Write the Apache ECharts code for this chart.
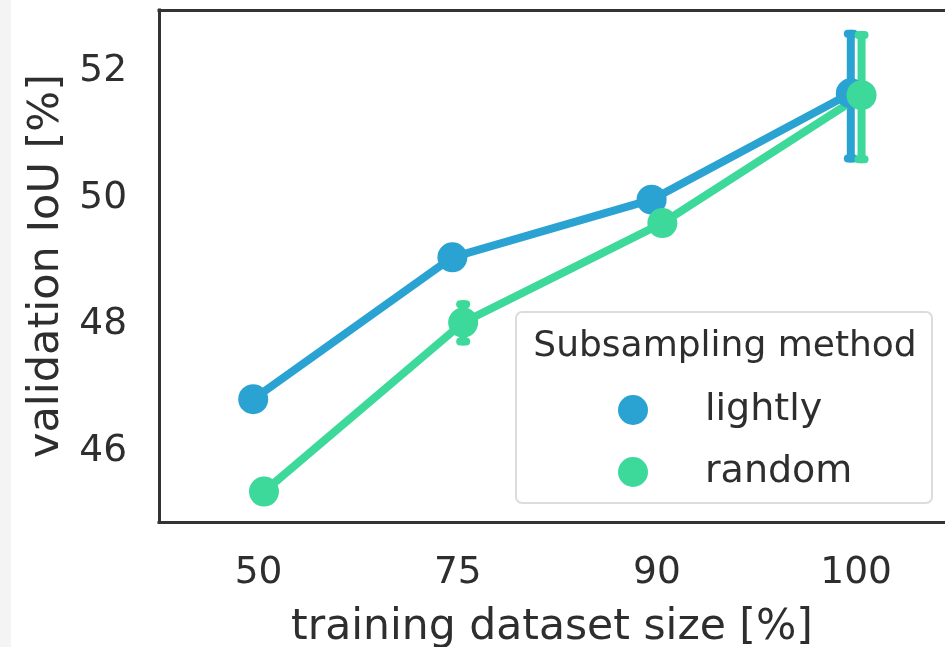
<!DOCTYPE html>
<html>
<head>
<meta charset="utf-8">
<script src="https://cdn.jsdelivr.net/npm/echarts@6/dist/echarts.min.js"></script>
<style>html,body{margin:0;padding:0;background:#fff}#c{width:945px;height:647px}</style>
</head>
<body>
<div id="c"></div>
<script>
// ---- data ----
var categories = ['50', '75', '90', '100'];
var seriesNames = ['lightly', 'random'];
var lightlyMean = [46.75, 48.99, 49.90, 51.58];
var lightlyLow  = [null, null, null, 50.55];
var lightlyHigh = [null, null, null, 52.52];
var randomMean  = [45.29, 47.96, 49.53, 51.55];
var randomLow   = [null, 47.66, null, 50.54];
var randomHigh  = [null, 48.25, null, 52.50];
var yTicks = [46, 48, 50, 52];
var colors = ['#2aa3d3', '#3dd99b'];
var dodge = [-0.027, 0.027];

var FONT = 'DejaVu Sans';
var TXT = '#2e2e2e';
var FRAME = { show: true, onZero: false, lineStyle: { color: '#333333', width: 3, cap: 'square' } };

function pts(mean, k) {
  return mean.map(function (v, i) { return [i + dodge[k], v]; });
}
function bars(lo, hi, k) {
  var out = [];
  lo.forEach(function (l, i) { if (l != null) out.push([i + dodge[k], l, hi[i]]); });
  return out;
}
function errRender(color) {
  return function (params, api) {
    var x = api.value(0);
    var a = api.coord([x, api.value(2)]);
    var b = api.coord([x, api.value(1)]);
    var cw = 3;
    var st = { stroke: color, lineWidth: 8, lineCap: 'round' };
    return {
      type: 'group',
      children: [
        { type: 'line', shape: { x1: a[0], y1: a[1], x2: b[0], y2: b[1] }, style: st },
        { type: 'line', shape: { x1: a[0] - cw, y1: a[1], x2: a[0] + cw, y2: a[1] }, style: st },
        { type: 'line', shape: { x1: b[0] - cw, y1: b[1], x2: b[0] + cw, y2: b[1] }, style: st }
      ]
    };
  };
}

var means = [lightlyMean, randomMean];
var lows = [lightlyLow, randomLow];
var highs = [lightlyHigh, randomHigh];
var series = [];
[0, 1].forEach(function (k) {
  series.push({
    name: seriesNames[k], type: 'line', data: pts(means[k], k),
    symbol: 'none', lineStyle: { color: colors[k], width: 8 },
    itemStyle: { color: colors[k] }, z: 2 + k * 3, silent: true, animation: false
  });
  series.push({
    name: seriesNames[k], type: 'custom', data: bars(lows[k], highs[k], k),
    renderItem: errRender(colors[k]), itemStyle: { color: colors[k] },
    z: 3 + k * 3, silent: true, animation: false
  });
  series.push({
    name: seriesNames[k], type: 'scatter', data: pts(means[k], k),
    symbol: 'circle', symbolSize: 30, itemStyle: { color: colors[k], opacity: 1 },
    z: 20 + k, silent: true, animation: false
  });
});

// x range: the category band continues past the right edge of the picture
var xMin = -0.5, xMax = 3.446;

var chart = echarts.init(document.getElementById('c'), null, { renderer: 'canvas' });
chart.setOption({
  backgroundColor: '#ffffff',
  animation: false,
  color: colors,
  grid: { left: 159, top: 10, right: 0, bottom: 125, show: false, outerBoundsMode: 'none' },
  xAxis: [{
    type: 'value', min: xMin, max: xMax, position: 'bottom',
    name: 'training dataset size [%]', nameLocation: 'middle', nameGap: 84,
    nameTextStyle: { fontFamily: FONT, fontSize: 42.5, color: TXT },
    axisLine: FRAME, axisTick: { show: false }, splitLine: { show: false },
    axisLabel: {
      customValues: [0, 1, 2, 3],
      formatter: function (v) { return categories[Math.round(v)]; },
      fontFamily: FONT, fontSize: 37.5, color: TXT, margin: 32
    }
  }, {
    type: 'value', min: xMin, max: xMax, position: 'top',
    axisLine: FRAME, axisTick: { show: false }, splitLine: { show: false },
    axisLabel: { show: false }
  }],
  yAxis: {
    type: 'value', min: 44.81, max: 52.895,
    name: 'validation IoU [%]', nameLocation: 'middle', nameGap: 70,
    nameTextStyle: { fontFamily: FONT, fontSize: 43, color: TXT },
    axisLine: FRAME, axisTick: { show: false }, splitLine: { show: false },
    axisLabel: {
      customValues: yTicks,
      fontFamily: FONT, fontSize: 37.5, color: TXT, margin: 32,
      verticalAlign: 'top', lineHeight: 9
    }
  },
  legend: {
    data: seriesNames, orient: 'vertical', left: 618, top: 391, padding: 0,
    icon: 'circle', itemWidth: 30, itemHeight: 30, itemGap: 24,
    textStyle: { fontFamily: FONT, fontSize: 38, color: TXT, padding: [0, 0, 0, 52] },
    selectedMode: false, z: 30
  },
  graphic: [
    { type: 'rect', left: 0, top: 0, shape: { width: 11, height: 647 }, style: { fill: '#f4f4f4' }, z: 0 },
    { type: 'rect', shape: { x: 516, y: 312, width: 416, height: 191, r: 6 },
      style: { fill: 'rgba(255,255,255,0.85)', stroke: '#dcdcdc', lineWidth: 2 }, z: 25 },
    { type: 'text', x: 725, y: 347, style: { text: 'Subsampling method', font: '36px "DejaVu Sans"',
      fill: TXT, textAlign: 'center', textVerticalAlign: 'middle' }, z: 26 }
  ],
  series: series
});
</script>
</body>
</html>
